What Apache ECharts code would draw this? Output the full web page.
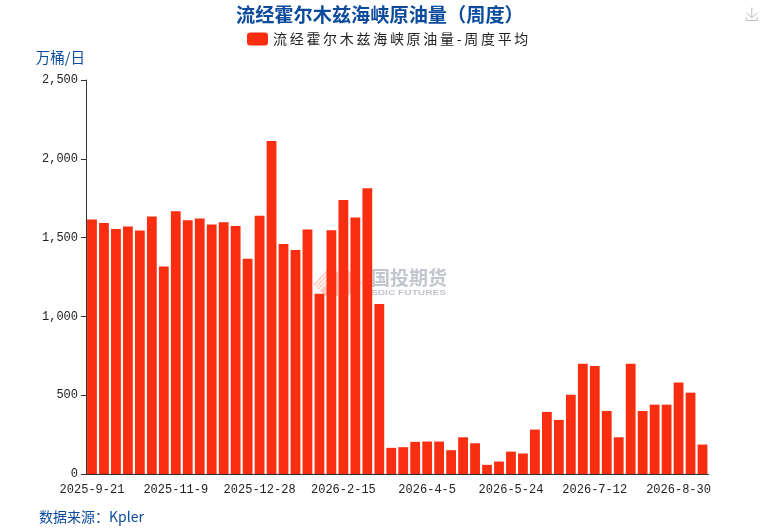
<!DOCTYPE html>
<html>
<head>
<meta charset="utf-8">
<script src="https://cdn.jsdelivr.net/npm/echarts@6/dist/echarts.min.js"></script>
<style>
html, body { margin: 0; padding: 0; background: #fff; }
#main { width: 764px; height: 531px; }
</style>
</head>
<body>
<div id="main"></div>
<script>
var dates = [
    '2025-9-21', '2025-9-28', '2025-10-5', '2025-10-12', '2025-10-19', '2025-10-26', '2025-11-2',
    '2025-11-9', '2025-11-16', '2025-11-23', '2025-11-30', '2025-12-7', '2025-12-14', '2025-12-21',
    '2025-12-28', '2026-1-4', '2026-1-11', '2026-1-18', '2026-1-25', '2026-2-1', '2026-2-8',
    '2026-2-15', '2026-2-22', '2026-3-1', '2026-3-8', '2026-3-15', '2026-3-22', '2026-3-29',
    '2026-4-5', '2026-4-12', '2026-4-19', '2026-4-26', '2026-5-3', '2026-5-10', '2026-5-17',
    '2026-5-24', '2026-5-31', '2026-6-7', '2026-6-14', '2026-6-21', '2026-6-28', '2026-7-5',
    '2026-7-12', '2026-7-19', '2026-7-26', '2026-8-2', '2026-8-9', '2026-8-16', '2026-8-23',
    '2026-8-30', '2026-9-6', '2026-9-13'
];
var flows = [
    1615, 1592, 1554, 1571, 1545, 1634, 1317,
    1667, 1610, 1621, 1583, 1598, 1573, 1366,
    1638, 2113, 1459, 1421, 1552, 1144, 1547,
    1739, 1628, 1813, 1079, 166, 170, 204,
    206, 206, 151, 233, 195, 58, 79,
    142, 130, 282, 394, 343, 503, 699,
    685, 400, 233, 699, 400, 440, 440,
    581, 516, 187
];
var seriesName = '流经霍尔木兹海峡原油量-周度平均';
var blue = '#0b4a9c';
var cjkFont = '"Noto Sans CJK SC", sans-serif';
var monoFont = '"Liberation Mono", monospace';

var myChart = echarts.init(document.getElementById('main'));

// legend sits on its own canvas layer so only its text gets the wide spacing
myChart.getZr().painter.getLayer(1).ctx.letterSpacing = '2.7px';

// white stripes over the pale logo shape
function hatch(x) {
    return {
        type: 'line',
        z: 1,
        shape: { x1: x, y1: 298, x2: x + 28, y2: 268 },
        style: { stroke: '#fff', lineWidth: 1.2 }
    };
}

var option = {
    animation: false,
    backgroundColor: '#fff',
    title: [
        {
            text: '流经霍尔木兹海峡原油量（周度）',
            left: 231,
            top: 0,
            textStyle: { color: blue, fontSize: 19.2, fontWeight: 'bold', fontFamily: cjkFont }
        },
        {
            text: '数据来源：Kpler',
            left: 34,
            top: 505,
            textStyle: { color: blue, fontSize: 14, fontWeight: 'normal', fontFamily: cjkFont }
        }
    ],
    toolbox: {
        right: -11,
        top: -10,
        itemSize: 13,
        iconStyle: { borderColor: '#bbb' },
        feature: { saveAsImage: {} }
    },
    legend: {
        data: [seriesName],
        top: 27,
        left: 242,
        zlevel: 1,
        itemWidth: 21,
        itemHeight: 13,
        itemGap: 5,
        textStyle: { color: '#222', fontSize: 14, fontFamily: cjkFont }
    },
    grid: { left: 86, right: 55.5, top: 80, bottom: 57 },
    xAxis: {
        type: 'category',
        data: dates,
        axisTick: { alignWithLabel: true, interval: 6, lineStyle: { color: '#333' } },
        axisLine: { lineStyle: { color: '#333' } },
        axisLabel: { interval: 6, color: '#222', fontSize: 12, margin: 10, fontFamily: monoFont }
    },
    yAxis: {
        type: 'value',
        min: 0,
        max: 2500,
        interval: 500,
        name: '万桶/日',
        nameLocation: 'end',
        nameGap: 15,
        nameTextStyle: { color: blue, fontSize: 14.5, align: 'right', padding: [0, 1, 0, 0], fontFamily: cjkFont },
        splitLine: { show: false },
        axisLine: { show: true, lineStyle: { color: '#333' } },
        axisTick: { show: true, lineStyle: { color: '#333' } },
        axisLabel: {
            color: '#222',
            fontSize: 12,
            fontFamily: monoFont,
            formatter: function (v) { return v.toLocaleString('en-US'); }
        }
    },
    // watermark, sits behind the bars
    graphic: [
        {
            type: 'polygon',
            z: 0,
            shape: { points: [[312, 284], [326, 270], [338, 270], [338, 296], [326, 296]] },
            style: { fill: '#fcc9c1' }
        },
        hatch(296),
        hatch(300),
        hatch(304),
        hatch(308),
        hatch(312),
        {
            type: 'polygon',
            z: 0,
            shape: { points: [[348, 270], [362, 283], [348, 296]] },
            style: { fill: '#fbd0c9' }
        },
        {
            type: 'text',
            x: 371,
            y: 268,
            z: 0,
            style: { text: '国投期货', fill: '#c3c6cf', font: 'bold 19px "Noto Sans CJK SC", sans-serif' }
        },
        {
            type: 'text',
            x: 371,
            y: 289,
            z: 0,
            scaleX: 1.27,
            style: { text: 'SDIC FUTURES', fill: '#c3c6cf', font: 'bold 8px "Liberation Sans", sans-serif' }
        }
    ],
    series: [
        {
            name: seriesName,
            type: 'bar',
            z: 5,
            barWidth: 9.8,
            itemStyle: { color: '#f92d0f' },
            data: flows
        }
    ]
};
myChart.setOption(option);
</script>
</body>
</html>
